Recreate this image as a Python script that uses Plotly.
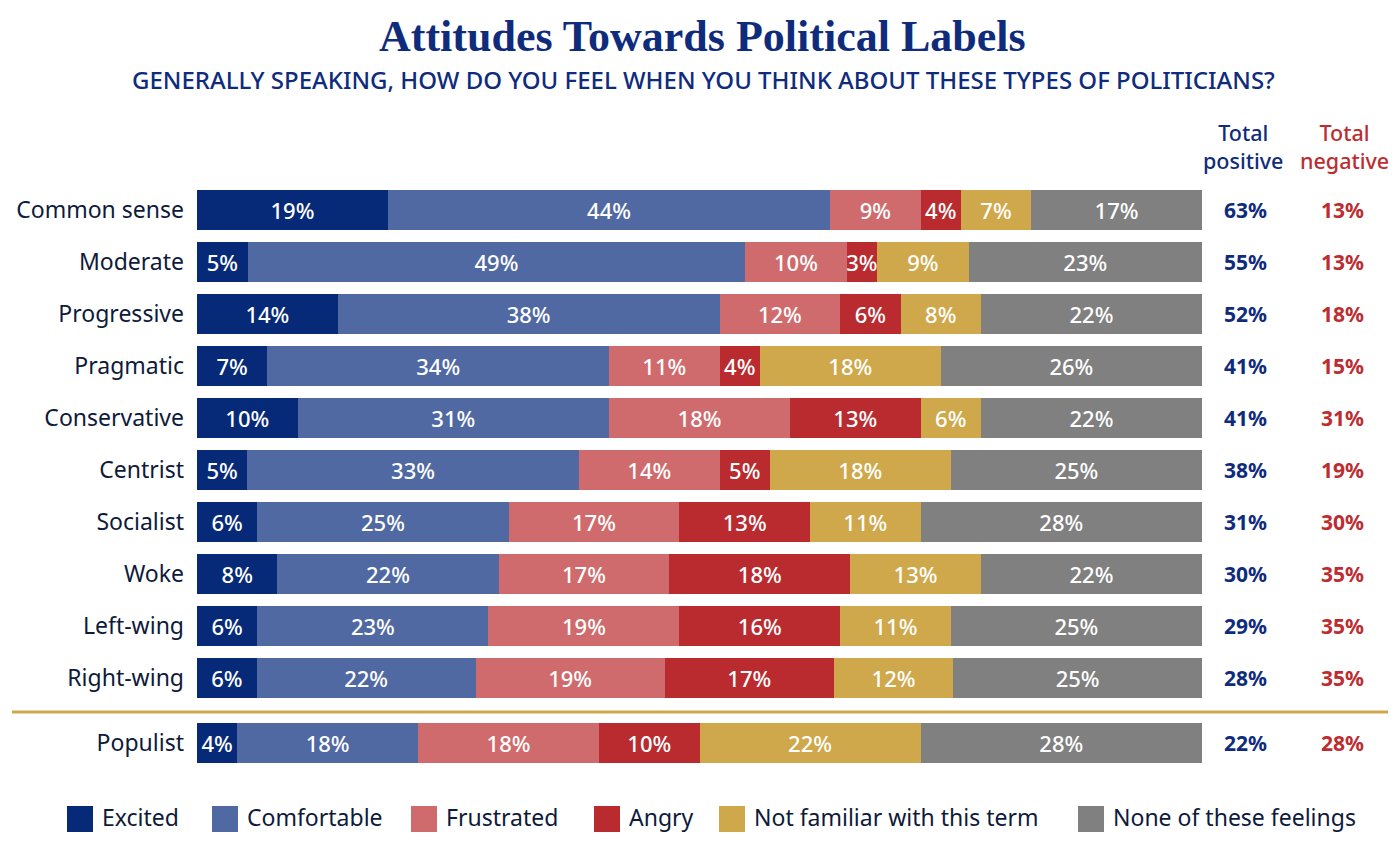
import plotly.graph_objects as go

categories = ["Common sense", "Moderate", "Progressive", "Pragmatic", "Conservative",
              "Centrist", "Socialist", "Woke", "Left-wing", "Right-wing", "Populist"]
series_names = ["Excited", "Comfortable", "Frustrated", "Angry",
                "Not familiar with this term", "None of these feelings"]
excited = [19, 5, 14, 7, 10, 5, 6, 8, 6, 6, 4]
comfortable = [44, 49, 38, 34, 31, 33, 25, 22, 23, 22, 18]
frustrated = [9, 10, 12, 11, 18, 14, 17, 17, 19, 19, 18]
angry = [4, 3, 6, 4, 13, 5, 13, 18, 16, 17, 10]
not_familiar = [7, 9, 8, 18, 6, 18, 11, 13, 11, 12, 22]
none_feel = [17, 23, 22, 26, 22, 25, 28, 22, 25, 25, 28]
total_positive = [63, 55, 52, 41, 41, 38, 31, 30, 29, 28, 22]
total_negative = [13, 13, 18, 15, 31, 19, 30, 35, 35, 35, 28]

colors = ["#062a78", "#5069a2", "#d06b6d", "#b92b2f", "#cfa84b", "#808080"]
NAVY = "#0f2c7c"
RED = "#bd2d30"
LABEL = "#0e1a3a"
FONT = "Noto Sans"

series = [excited, comfortable, frustrated, angry, not_familiar, none_feel]
row_sums = [sum(s[i] for s in series) for i in range(len(categories))]
# row positions: last row separated by an extra gap
pos = [i if i < 10 else i + 0.25 for i in range(len(categories))]

# The page body has an 8px margin; layout is designed in screen pixels.
OFF = 8
W, H = 1400 - 2 * OFF, 841 - 2 * OFF
L, R, T, B = 197 - OFF, 1202 - OFF, 184 - OFF, 769 - OFF   # plot area in figure px
def xp(px):
    return (px - OFF - L) / (R - L)
def yp(py):
    return (B - (py - OFF)) / (B - T)

fig = go.Figure()
for name, vals, col in zip(series_names, series, colors):
    fig.add_trace(go.Bar(
        y=pos, x=[v / s * 100 for v, s in zip(vals, row_sums)],
        orientation="h", name=name, marker=dict(color=col, line=dict(width=0)),
        customdata=vals, texttemplate="%{customdata}%", textposition="inside",
        insidetextanchor="middle", constraintext="none", textangle=0,
        textfont=dict(family=FONT, size=22, color="white", weight=500),
        width=0.77, showlegend=False, hoverinfo="skip"))

annotations = []
# Title & subtitle
annotations.append(dict(text="<b>Attitudes Towards Political Labels</b>", xref="paper", yref="paper",
                        x=xp(702), y=yp(36), showarrow=False, xanchor="center", yanchor="middle",
                        font=dict(family="Liberation Serif", size=44, color=NAVY)))
annotations.append(dict(text="GENERALLY SPEAKING, HOW DO YOU FEEL WHEN YOU THINK ABOUT THESE TYPES OF POLITICIANS?",
                        xref="paper", yref="paper", x=xp(703), y=yp(80), showarrow=False,
                        xanchor="center", yanchor="middle",
                        font=dict(family=FONT, size=24, color=NAVY, weight=500)))
# Column headers
for cx, col, word in [(1243, NAVY, "positive"), (1344, RED, "negative")]:
    annotations.append(dict(text="Total<br>" + word, xref="paper", yref="paper", x=xp(cx), y=yp(146),
                            showarrow=False, xanchor="center", yanchor="middle",
                            font=dict(family=FONT, size=21.5, color=col, weight=500)))
for p, tp, tn in zip(pos, total_positive, total_negative):
    annotations.append(dict(text=f"<b>{tp}%</b>", xref="paper", yref="y", x=xp(1245), y=p,
                            showarrow=False, xanchor="center", yanchor="middle",
                            font=dict(family=FONT, size=21, color=NAVY)))
    annotations.append(dict(text=f"<b>{tn}%</b>", xref="paper", yref="y", x=xp(1342), y=p,
                            showarrow=False, xanchor="center", yanchor="middle",
                            font=dict(family=FONT, size=21, color=RED)))

shapes = []
# separator line
shapes.append(dict(type="line", xref="paper", yref="y", x0=xp(12), x1=xp(1388),
                   y0=(pos[9] + pos[10]) / 2 + 0.03, y1=(pos[9] + pos[10]) / 2 + 0.03,
                   line=dict(color="#cfa84b", width=3)))
# custom legend
legend_x = [67, 212, 411, 594, 719, 1078]
for lx, name, col in zip(legend_x, series_names, colors):
    shapes.append(dict(type="rect", xref="paper", yref="paper",
                       x0=xp(lx), x1=xp(lx + 26), y0=yp(806), y1=yp(832),
                       fillcolor=col, line=dict(width=0)))
    annotations.append(dict(text=name, xref="paper", yref="paper", x=xp(lx + 33), y=yp(817),
                            showarrow=False, xanchor="left", yanchor="middle",
                            font=dict(family=FONT, size=23, color=LABEL)))

fig.update_layout(
    barmode="stack", width=W, height=H,
    margin=dict(l=L, r=W - R, t=T, b=H - B, autoexpand=False),
    plot_bgcolor="white", paper_bgcolor="white",
    xaxis=dict(range=[0, 100], visible=False, fixedrange=True),
    yaxis=dict(range=[10.75, -0.5], tickvals=pos, ticktext=categories, showgrid=False,
               zeroline=False, showline=False, ticks="", ticklabelstandoff=12,
               tickfont=dict(family=FONT, size=23, color=LABEL), automargin=False),
    showlegend=False, annotations=annotations, shapes=shapes,
    uniformtext=dict(mode="show", minsize=22),
)
fig.write_html("out.html")
